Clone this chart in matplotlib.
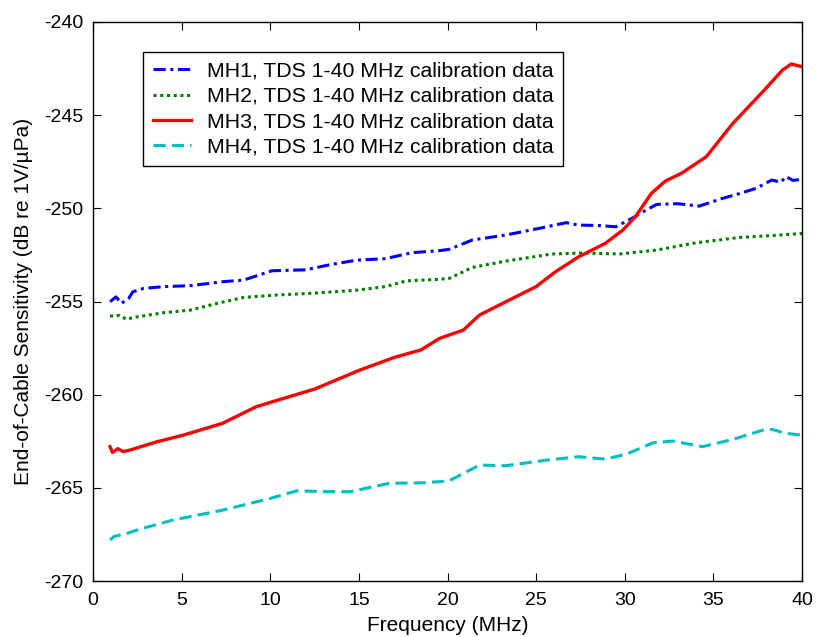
import matplotlib
matplotlib.use("Agg")
import matplotlib.pyplot as plt

plt.rcParams['font.family'] = ['Liberation Sans', 'DejaVu Sans']
plt.rcParams['axes.unicode_minus'] = False

# MH1 (blue dash-dot)
f1 = [0.96, 1.3, 1.6, 2.0, 2.25, 2.84, 4.0, 5.5, 7.3, 8.5, 10.1, 12.0, 13.5, 14.9, 16.5, 18.0, 19.55, 20.1, 21.4, 23.3, 25.2, 26.7, 27.4, 28.5, 29.5, 30.4, 31.0, 31.8, 33.0, 34.2, 35.5, 36.5, 37.4, 38.3, 38.8, 39.1, 39.5, 40.0]
v1 = [-255.01, -254.75, -255.1, -254.85, -254.48, -254.3, -254.2, -254.15, -253.94, -253.85, -253.35, -253.3, -253.0, -252.78, -252.7, -252.38, -252.27, -252.2, -251.7, -251.43, -251.07, -250.77, -250.9, -250.92, -250.99, -250.54, -250.2, -249.79, -249.75, -249.88, -249.47, -249.2, -248.93, -248.48, -248.6, -248.3, -248.5, -248.44]

# MH2 (green dotted)
f2 = [0.96, 1.5, 1.9, 2.3, 2.8, 4.0, 5.5, 7.0, 8.5, 10.4, 12.5, 14.9, 16.5, 17.7, 19.55, 20.1, 21.4, 23.3, 25.9, 27.5, 29.7, 31.8, 34.0, 36.5, 38.5, 40.0]
v2 = [-255.78, -255.75, -255.96, -255.85, -255.78, -255.6, -255.46, -255.1, -254.78, -254.65, -254.55, -254.39, -254.2, -253.89, -253.81, -253.76, -253.17, -252.83, -252.45, -252.4, -252.45, -252.24, -251.85, -251.56, -251.45, -251.35]

# MH3 (red solid)
f3 = [0.96, 1.1, 1.4, 1.7, 2.1, 2.5, 3.6, 5.1, 7.3, 9.2, 10.4, 12.5, 15.0, 17.0, 18.5, 19.55, 20.9, 21.8, 23.3, 25.0, 26.1, 27.4, 28.9, 29.9, 30.6, 31.5, 32.3, 33.2, 34.6, 36.1, 37.7, 38.9, 39.4, 40.0]
v3 = [-262.79, -263.1, -262.9, -263.05, -262.97, -262.85, -262.53, -262.17, -261.54, -260.65, -260.3, -259.7, -258.7, -258.0, -257.6, -256.98, -256.53, -255.73, -255.01, -254.2, -253.4, -252.6, -251.88, -251.16, -250.45, -249.2, -248.53, -248.12, -247.23, -245.44, -243.83, -242.58, -242.25, -242.4]

# MH4 (cyan dashed)
f4 = [0.96, 1.2, 1.5, 1.9, 2.6, 4.5, 6.4, 7.3, 10.0, 11.5, 13.0, 14.5, 16.7, 18.6, 19.55, 20.1, 21.8, 23.3, 25.7, 27.4, 28.9, 30.1, 31.6, 32.7, 34.4, 36.1, 37.8, 38.3, 39.1, 40.0]
v4 = [-267.8, -267.6, -267.54, -267.45, -267.23, -266.73, -266.37, -266.2, -265.57, -265.16, -265.2, -265.21, -264.76, -264.73, -264.67, -264.62, -263.78, -263.81, -263.5, -263.33, -263.46, -263.19, -262.58, -262.49, -262.79, -262.4, -261.9, -261.86, -262.08, -262.17]

labels = ["MH1, TDS 1-40 MHz calibration data",
          "MH2, TDS 1-40 MHz calibration data",
          "MH3, TDS 1-40 MHz calibration data",
          "MH4, TDS 1-40 MHz calibration data"]
xticks = [0, 5, 10, 15, 20, 25, 30, 35, 40]
yticks = [-270, -265, -260, -255, -250, -245, -240]

fig = plt.figure(figsize=(8.18, 6.37), dpi=100)
ax = fig.add_axes([93/818, 1-581/637, 709/818, 559/637])

ax.plot(f1, v1, color=(0, 0, 1), lw=2.2, linestyle=(0, (4, 1.5, 1, 1.5)), label=labels[0])
ax.plot(f2, v2, color=(0, 0.5, 0), lw=2.2, linestyle=(0, (1, 1.2)), label=labels[1])
ax.plot(f3, v3, color=(1, 0, 0), lw=2.4, linestyle='-', label=labels[2])
ax.plot(f4, v4, color=(0, 0.75, 0.75), lw=2.2, linestyle=(0, (4, 2)), label=labels[3])

ax.set_xlim(0, 40)
ax.set_ylim(-270, -240)
ax.set_xticks(xticks)
ax.set_yticks(yticks)
ax.tick_params(direction='in', top=True, right=True, labelsize=14, length=6, width=0.8)
ax.tick_params(axis='x', pad=8)
ax.tick_params(axis='y', pad=7)
for s in ax.spines.values():
    s.set_linewidth(1.0)
ax.set_xlabel("Frequency (MHz)", fontsize=15, labelpad=5)
ax.set_ylabel("End-of-Cable Sensitivity (dB re 1V/\u00b5Pa)", fontsize=15, labelpad=8)

leg = ax.legend(loc='upper left', bbox_to_anchor=((143-93)/709, (581-52)/559),
                borderaxespad=0, fancybox=False, edgecolor='black', framealpha=1,
                fontsize=15.3, handlelength=1.8, labelspacing=0.3, borderpad=0.45,
                handletextpad=0.75)
leg.get_frame().set_linewidth(1.0)

fig.savefig("out.png", dpi=100)
